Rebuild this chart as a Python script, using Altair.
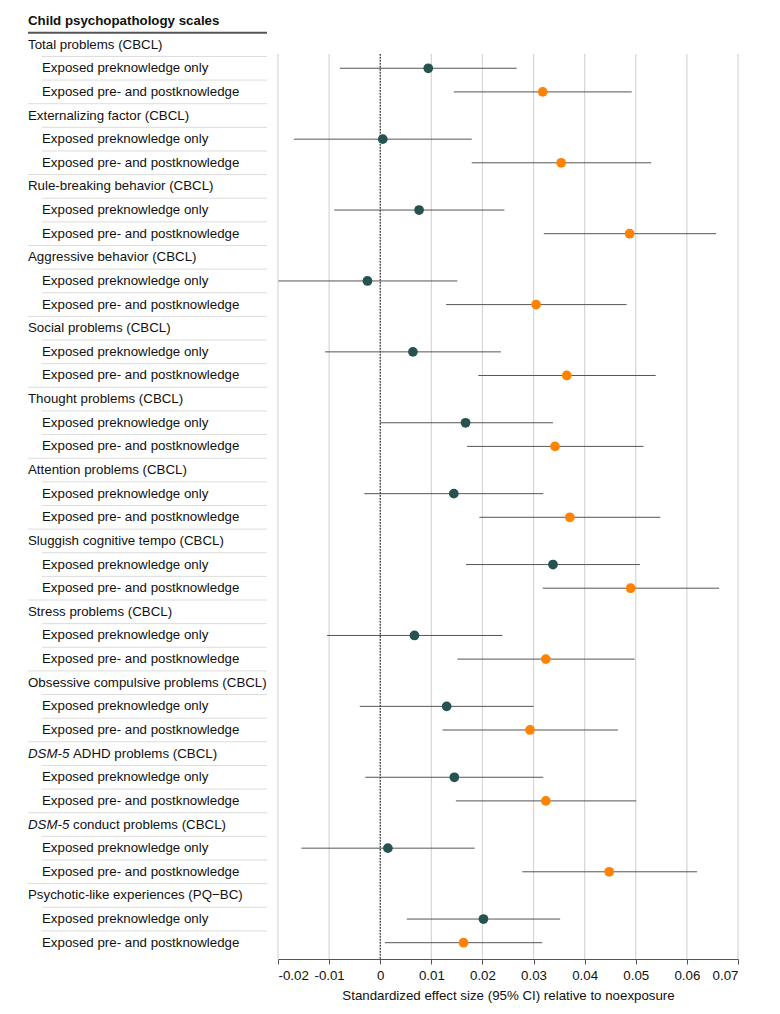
import altair as alt
import pandas as pd

header_title = "Child psychopathology scales"
scales = [
    "Total problems (CBCL)",
    "Externalizing factor (CBCL)",
    "Rule-breaking behavior (CBCL)",
    "Aggressive behavior (CBCL)",
    "Social problems (CBCL)",
    "Thought problems (CBCL)",
    "Attention problems (CBCL)",
    "Sluggish cognitive tempo (CBCL)",
    "Stress problems (CBCL)",
    "Obsessive compulsive problems (CBCL)",
    "DSM-5 ADHD problems (CBCL)",
    "DSM-5 conduct problems (CBCL)",
    "Psychotic-like experiences (PQ\u2212BC)",
]
italic_prefix = "DSM-5"
groups = ["Exposed preknowledge only", "Exposed pre- and postknowledge"]
group_colors = ["#265250", "#ff8200"]

pre_only_est = [0.0094, 0.0005, 0.0076, -0.0025, 0.0064, 0.0167, 0.0144, 0.0338, 0.0067, 0.0130, 0.0145, 0.0015, 0.0202]
pre_only_lo = [-0.0079, -0.0169, -0.0090, -0.0199, -0.0108, 0.0000, -0.0031, 0.0168, -0.0104, -0.0040, -0.0029, -0.0154, 0.0052]
pre_only_hi = [0.0267, 0.0179, 0.0243, 0.0151, 0.0236, 0.0338, 0.0319, 0.0508, 0.0239, 0.0300, 0.0319, 0.0185, 0.0352]
prepost_est = [0.0318, 0.0354, 0.0488, 0.0305, 0.0365, 0.0342, 0.0371, 0.0490, 0.0324, 0.0293, 0.0324, 0.0448, 0.0163]
prepost_lo = [0.0144, 0.0179, 0.0320, 0.0129, 0.0192, 0.0170, 0.0194, 0.0318, 0.0151, 0.0122, 0.0148, 0.0278, 0.0009]
prepost_hi = [0.0492, 0.0530, 0.0657, 0.0482, 0.0539, 0.0515, 0.0548, 0.0663, 0.0498, 0.0465, 0.0501, 0.0620, 0.0317]

x_ticks = [-0.02, -0.01, 0, 0.01, 0.02, 0.03, 0.04, 0.05, 0.06, 0.07]
x_title = "Standardized effect size (95% CI) relative to noexposure"

FONT = "Liberation Sans"
FS = 13.3
TEXT_COLOR = "#111111"

# ---- build tables ----
labels, ests, seps = [], [], []
series = [(pre_only_est, pre_only_lo, pre_only_hi), (prepost_est, prepost_lo, prepost_hi)]
for k, scale in enumerate(scales):
    r = 1 + 3 * k
    if scale.startswith(italic_prefix + " "):
        labels.append(dict(row=r, text=italic_prefix, kind="italic"))
        labels.append(dict(row=r, text=scale[len(italic_prefix) + 1:], kind="after"))
    else:
        labels.append(dict(row=r, text=scale, kind="scale"))
    seps.append(dict(pos=r + 0.5, kind="inner"))
    for j, g in enumerate(groups):
        e, lo, hi = series[j]
        labels.append(dict(row=r + 1 + j, text=g, kind="group"))
        ests.append(dict(row=r + 1 + j, group=g, est=e[k], lo=lo[k], hi=hi[k]))
        if j == 0:
            seps.append(dict(pos=r + 1 + j + 0.5, kind="inner"))
        elif k < len(scales) - 1:
            seps.append(dict(pos=r + 1 + j + 0.5, kind="outer"))

labels_df = pd.DataFrame(labels)
ests_df = pd.DataFrame(ests)
seps_df = pd.DataFrame(seps)
head_df = pd.DataFrame([dict(row=0, text=header_title, pos=0.5)])
ticks_df = pd.DataFrame(dict(tick=x_ticks))

H = 945
yscale = alt.Scale(domain=[-0.296, 39.69], reverse=True, nice=False, zero=False)
Y = lambda f: alt.Y(f, scale=yscale, axis=None)

# ---- left table ----
head_text = alt.Chart(head_df).mark_text(
    align="left", baseline="middle", font=FONT, fontSize=FS, fontWeight="bold", color=TEXT_COLOR
).encode(x=alt.value(15), y=Y("row:Q"), text="text:N")
head_rule = alt.Chart(head_df).mark_rule(color="#555555", strokeWidth=2).encode(
    x=alt.value(15), x2=alt.value(254), y=Y("pos:Q"))

def txt(kind, xpos, **kw):
    return alt.Chart(labels_df).transform_filter(alt.datum.kind == kind).mark_text(
        align="left", baseline="middle", font=FONT, fontSize=FS, color=TEXT_COLOR, **kw
    ).encode(x=alt.value(xpos), y=Y("row:Q"), text="text:N")

scale_text = txt("scale", 15)
ital_text = txt("italic", 15, fontStyle="italic")
after_text = txt("after", 60)
group_text = txt("group", 29)

inner_sep = alt.Chart(seps_df).transform_filter(alt.datum.kind == "inner").mark_rule(
    color="#dcdcdc", strokeWidth=1).encode(x=alt.value(29), x2=alt.value(254), y=Y("pos:Q"))
outer_sep = alt.Chart(seps_df).transform_filter(alt.datum.kind == "outer").mark_rule(
    color="#dcdcdc", strokeWidth=1).encode(x=alt.value(15), x2=alt.value(254), y=Y("pos:Q"))

left = alt.layer(head_rule, inner_sep, outer_sep, head_text, scale_text, ital_text, after_text,
                 group_text).properties(width=265, height=H)

# ---- right forest plot ----
xscale = alt.Scale(domain=[-0.02, 0.07], nice=False, zero=False)
xaxis = alt.Axis(
    values=x_ticks,
    labelExpr="datum.value == 0 ? '0' : replace(format(datum.value, '.2f'), '\u2212', '-')",
    grid=False, domainColor="#555555", tickColor="#555555", tickSize=5,
    labelFont=FONT, labelFontSize=FS, labelColor=TEXT_COLOR, labelPadding=4,
    title=x_title, titleFont=FONT, titleFontSize=FS, titleFontWeight="normal",
    titleColor=TEXT_COLOR, titlePadding=7,
)

grid = alt.Chart(ticks_df).mark_rule(color="#d6d6d6", strokeWidth=1.2).encode(
    x=alt.X("tick:Q", scale=xscale, axis=xaxis),
    y=alt.Y(datum=1.4, scale=yscale, axis=None),
    y2=alt.value(H),
)
zero = alt.Chart(ticks_df).transform_filter(alt.datum.tick == 0).mark_rule(
    color="#000000", strokeWidth=1, strokeDash=[1.5, 1.5]).encode(
    x=alt.X("tick:Q", scale=xscale),
    y=alt.Y(datum=1.4, scale=yscale, axis=None),
    y2=alt.value(H),
)
ci = alt.Chart(ests_df).mark_rule(color="#555555", strokeWidth=1).encode(
    x=alt.X("lo:Q", scale=xscale), x2="hi:Q", y=Y("row:Q"))
pts = alt.Chart(ests_df).mark_point(filled=True, opacity=1, size=95).encode(
    x=alt.X("est:Q", scale=xscale),
    y=Y("row:Q"),
    color=alt.Color("group:N", scale=alt.Scale(domain=groups, range=group_colors), legend=None),
)
right = alt.layer(grid, zero, ci, pts).properties(width=460, height=H)

chart = alt.hconcat(left, right, spacing=0, bounds="flush").configure_view(stroke=None)

chart.save("out.html", embed_options={"renderer": "svg", "actions": False})
